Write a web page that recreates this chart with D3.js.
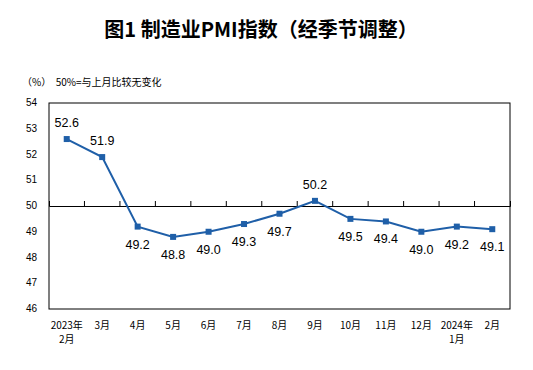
<!DOCTYPE html>
<html lang="zh">
<head>
<meta charset="UTF-8">
<title>制造业PMI指数</title>
<script src="https://d3js.org/d3.v7.min.js"></script>
<style>
  body { margin: 0; background: #fff; }
</style>
</head>
<body>
<div id="chart"></div>
<script>
  // 数据
  var months = ["2023年\n2月", "3月", "4月", "5月", "6月", "7月", "8月", "9月", "10月", "11月", "12月", "2024年\n1月", "2月"];
  var pmi = [52.6, 51.9, 49.2, 48.8, 49.0, 49.3, 49.7, 50.2, 49.5, 49.4, 49.0, 49.2, 49.1];
  var yTicks = [46, 47, 48, 49, 50, 51, 52, 53, 54];
  var labelAbove = [true, true, false, false, false, false, false, true, false, false, false, false, false];

  var width = 533, height = 370;
  var margin = { left: 49, right: 23, top: 103, bottom: 61 };

  var svg = d3.select("#chart").append("svg")
      .attr("width", width)
      .attr("height", height);

  // 标题
  svg.append("text")
      .attr("x", 261).attr("y", 37)
      .attr("text-anchor", "middle")
      .style("white-space", "pre")
      .style("font-family", "'Noto Sans CJK SC'")
      .style("font-weight", "bold")
      .style("font-size", "20px")
      .text("图1 制造业PMI指数（经季节调整）");

  svg.append("text")
      .attr("x", 22).attr("y", 86)
      .style("white-space", "pre")
      .style("font-family", "'Noto Sans CJK SC'")
      .style("font-size", "10px")
      .text("（%）  50%=与上月比较无变化");

  var x = d3.scaleBand()
      .domain(d3.range(months.length))
      .range([margin.left, width - margin.right]);

  var y = d3.scaleLinear()
      .domain([46, 54])
      .range([height - margin.bottom, margin.top]);

  // 外框
  svg.append("rect")
      .attr("x", margin.left).attr("y", margin.top)
      .attr("width", width - margin.left - margin.right)
      .attr("height", height - margin.top - margin.bottom)
      .attr("fill", "none")
      .attr("stroke", "#000")
      .attr("stroke-width", 1);

  // y 轴标签
  svg.append("g").selectAll("text")
      .data(yTicks)
      .enter().append("text")
      .attr("x", 37)
      .attr("y", d => y(d) + 3)
      .attr("text-anchor", "end")
      .style("font-family", "'Liberation Sans Narrow', 'Liberation Sans'")
      .style("font-size", "10px")
      .text(d => d);

  // 50 线 + 刻度
  var axis = d3.axisTop(x).tickSize(5).tickFormat("");
  var ax = svg.append("g")
      .attr("transform", "translate(0," + y(50) + ")")
      .call(axis);
  ax.select(".domain").attr("stroke", "#000");
  ax.selectAll(".tick line")
      .attr("transform", "translate(" + x.bandwidth() / 2 + ",0)")
      .attr("stroke", "#000");
  ax.selectAll(".tick").filter((d, i) => i === months.length - 1).remove();

  // x 轴标签
  var xl = svg.append("g").selectAll("text")
      .data(months)
      .enter().append("text")
      .attr("text-anchor", "middle")
      .attr("transform", (d, i) => "translate(" + (x(i) + x.bandwidth() / 2) + "," + 329 + ")")
      .style("font-family", "'Noto Sans CJK SC'")
      .style("font-size", "10px");
  xl.each(function(d) {
      var parts = d.split("\n");
      var t = d3.select(this);
      parts.forEach(function(p, k) {
          t.append("tspan").attr("x", 0).attr("dy", k === 0 ? 0 : 14).text(p);
      });
  });

  var color = "#1f5fa8";
  var cx = i => x(i) + x.bandwidth() / 2;

  var line = d3.line()
      .x((d, i) => cx(i))
      .y(d => y(d));

  svg.append("path")
      .datum(pmi)
      .attr("fill", "none")
      .attr("stroke", color)
      .attr("stroke-width", 2)
      .attr("d", line);

  svg.append("g").selectAll("rect")
      .data(pmi)
      .enter().append("rect")
      .attr("x", (d, i) => cx(i) - 3)
      .attr("y", d => y(d) - 3)
      .attr("width", 6).attr("height", 6)
      .attr("fill", color);

  // 数据标签
  svg.append("g").selectAll("text")
      .data(pmi)
      .enter().append("text")
      .attr("x", (d, i) => cx(i))
      .attr("y", (d, i) => labelAbove[i] ? y(d) - 12 : y(d) + 22)
      .attr("text-anchor", "middle")
      .style("font-family", "'Liberation Sans', Arial")
      .style("font-size", "12.5px")
      .text(d => d.toFixed(1));
</script>
</body>
</html>
